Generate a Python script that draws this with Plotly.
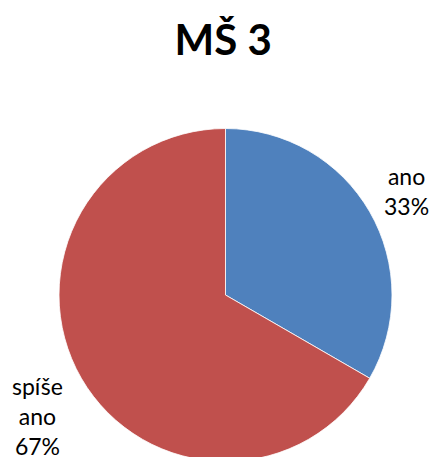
import math
import plotly.graph_objects as go

# Survey answers for kindergarten MŠ 3
title_text = "MŠ 3"
answers = ["ano", "spíše ano"]
counts = [1, 2]
colors = ["#4F81BD", "#C0504D"]

W, H = 435, 463
# pie box in pixels (left, right, top, bottom)
px_left, px_right, px_top, px_bottom = 59, 392, 128, 462
# radial distance of each data label, as a multiple of the radius,
# plus a small pixel nudge (x, y) per label
label_dist = [1.255, 1.355]
label_nudge = [(0, 0), (7, -8)]

fig = go.Figure(
    go.Pie(
        labels=answers,
        values=counts,
        textinfo="none",
        hoverinfo="label+percent",
        marker=dict(colors=colors, line=dict(color="#FFFFFF", width=0.8)),
        sort=False,
        direction="clockwise",
        rotation=0,
        showlegend=False,
        domain=dict(
            x=[px_left / W, px_right / W],
            y=[(H - px_bottom) / H, (H - px_top) / H],
        ),
    )
)

# data labels placed along each slice's middle angle
cx = (px_left + px_right) / 2
cy = (px_top + px_bottom) / 2
radius = (px_right - px_left) / 2
total = sum(counts)
start = 0.0
for name, value, k, (nx, ny) in zip(answers, counts, label_dist, label_nudge):
    share = value / total
    mid = (start + share / 2) * 2 * math.pi
    start += share
    lx = cx + k * radius * math.sin(mid)
    ly = cy - k * radius * math.cos(mid)
    fig.add_annotation(
        x=lx / W,
        y=1 - ly / H,
        xref="paper",
        yref="paper",
        xshift=nx,
        yshift=ny,
        text=name.replace(" ", "<br>") + f"<br>{round(share * 100)}%",
        showarrow=False,
        xanchor="center",
        yanchor="middle",
        align="center",
        font=dict(family="Lato", size=23, color="#000000"),
    )

fig.update_layout(
    width=W,
    height=H,
    margin=dict(l=0, r=0, t=0, b=0),
    paper_bgcolor="#FFFFFF",
    plot_bgcolor="#FFFFFF",
    title=dict(
        text=f"<b>{title_text}</b>",
        font=dict(family="Lato", size=42, color="#000000"),
        x=0.513,
        xanchor="center",
        y=1 - 40 / H,
        yanchor="middle",
        yref="container",
    ),
)

fig.write_html(
    "out.html",
    post_script="document.documentElement.style.overflow='hidden';document.body.style.overflow='hidden';document.body.style.margin='0';",
)
